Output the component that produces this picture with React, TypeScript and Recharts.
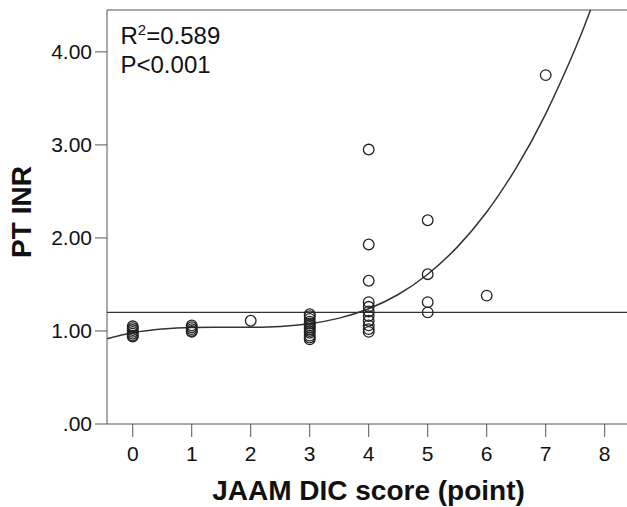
import React from 'react';
import { ComposedChart, Scatter, Line, XAxis, YAxis, ReferenceLine } from 'recharts';

// observed points, grouped by JAAM DIC score
const scores = [0, 1, 2, 3, 4, 5, 6, 7];
const inrByScore: number[][] = [
  [1.05, 1.03, 1.01, 0.99, 0.97, 0.95, 0.94],
  [1.06, 1.04, 1.02, 1.0, 0.99],
  [1.11],
  [1.18, 1.16, 1.13, 1.1, 1.08, 1.06, 1.04, 1.02, 1.0, 0.98, 0.95, 0.93, 0.91],
  [2.95, 1.93, 1.54, 1.31, 1.26, 1.21, 1.16, 1.11, 1.06, 1.02, 0.99],
  [2.19, 1.61, 1.31, 1.2],
  [1.38],
  [3.75],
];

// fitted curve
const curveX = [-0.436, 0, 0.5, 1, 1.5, 2, 2.5, 3, 3.5, 4, 4.5, 5, 5.5, 6, 6.5, 7, 7.5, 7.76];
const curveY = [0.916, 0.98, 1.02, 1.037, 1.039, 1.04, 1.049, 1.078, 1.138, 1.239, 1.392, 1.61, 1.901, 2.278, 2.753, 3.334, 4.033, 4.45];

const xTicks = [0, 1, 2, 3, 4, 5, 6, 7, 8];
const yTicks = [0, 1, 2, 3, 4];
const cutoff = 1.2;
const yMax = 4.45;

const points = scores.flatMap((s, i) => inrByScore[i].map((v) => ({ x: s, y: v })));
const curve = curveX.map((x, i) => ({ x, y: curveY[i] }));

const FONT = '"Liberation Sans", Arial, sans-serif';
const axisColor = '#555';

const OpenCircle = (props: any) => (
  <circle cx={props.cx} cy={props.cy} r={5.3} fill="none" stroke="#222" strokeWidth={1.3} />
);

const App: React.FC = () => {
  return (
    <div style={{ position: 'absolute', left: 0, top: 0, width: 627, height: 507, background: '#fff', fontFamily: FONT }}>
      <ComposedChart width={627} height={507} margin={{ top: 10, right: 0, left: 0, bottom: 0 }}>
        <XAxis
          type="number"
          dataKey="x"
          domain={[-0.436, 8.378]}
          ticks={xTicks}
          allowDataOverflow
          height={83}
          tickSize={13}
          tickMargin={9}
          stroke={axisColor}
          tick={{ fontSize: 21, fill: '#111', fontFamily: FONT }}
        />
        <YAxis
          type="number"
          dataKey="y"
          domain={[0, yMax]}
          ticks={yTicks}
          allowDataOverflow
          width={107}
          tickSize={12}
          tickMargin={3}
          stroke={axisColor}
          tick={{ fontSize: 21, fill: '#111', fontFamily: FONT }}
          tickFormatter={(v: number) => (v === 0 ? '.00' : v.toFixed(2))}
        />
        <ReferenceLine y={yMax} stroke={axisColor} strokeWidth={1.2} />
        <ReferenceLine y={cutoff} stroke="#333" strokeWidth={1.3} />
        <Line
          data={curve}
          dataKey="y"
          type="natural"
          stroke="#333"
          strokeWidth={1.5}
          dot={false}
          activeDot={false}
          isAnimationActive={false}
        />
        <Scatter data={points} dataKey="y" shape={OpenCircle} isAnimationActive={false} />
      </ComposedChart>
      <svg width={627} height={507} style={{ position: 'absolute', left: 0, top: 0, pointerEvents: 'none' }}>
        <text x={120.5} y={44} fontSize={24} fill="#111" fontFamily={FONT}>
          R<tspan fontSize={15} dy={-9}>2</tspan><tspan dy={9}>=0.589</tspan>
        </text>
        <text x={120.5} y={72.5} fontSize={24} fill="#111" fontFamily={FONT}>P&lt;0.001</text>
        <text x={368.5} y={500} fontSize={28} fontWeight="bold" textAnchor="middle" fill="#111" fontFamily={FONT}>
          JAAM DIC score (point)
        </text>
        <text
          x={0}
          y={0}
          fontSize={28}
          fontWeight="bold"
          textAnchor="middle"
          fill="#111"
          fontFamily={FONT}
          transform="translate(31 212) rotate(-90)"
        >
          PT INR
        </text>
      </svg>
    </div>
  );
};

export default App;
